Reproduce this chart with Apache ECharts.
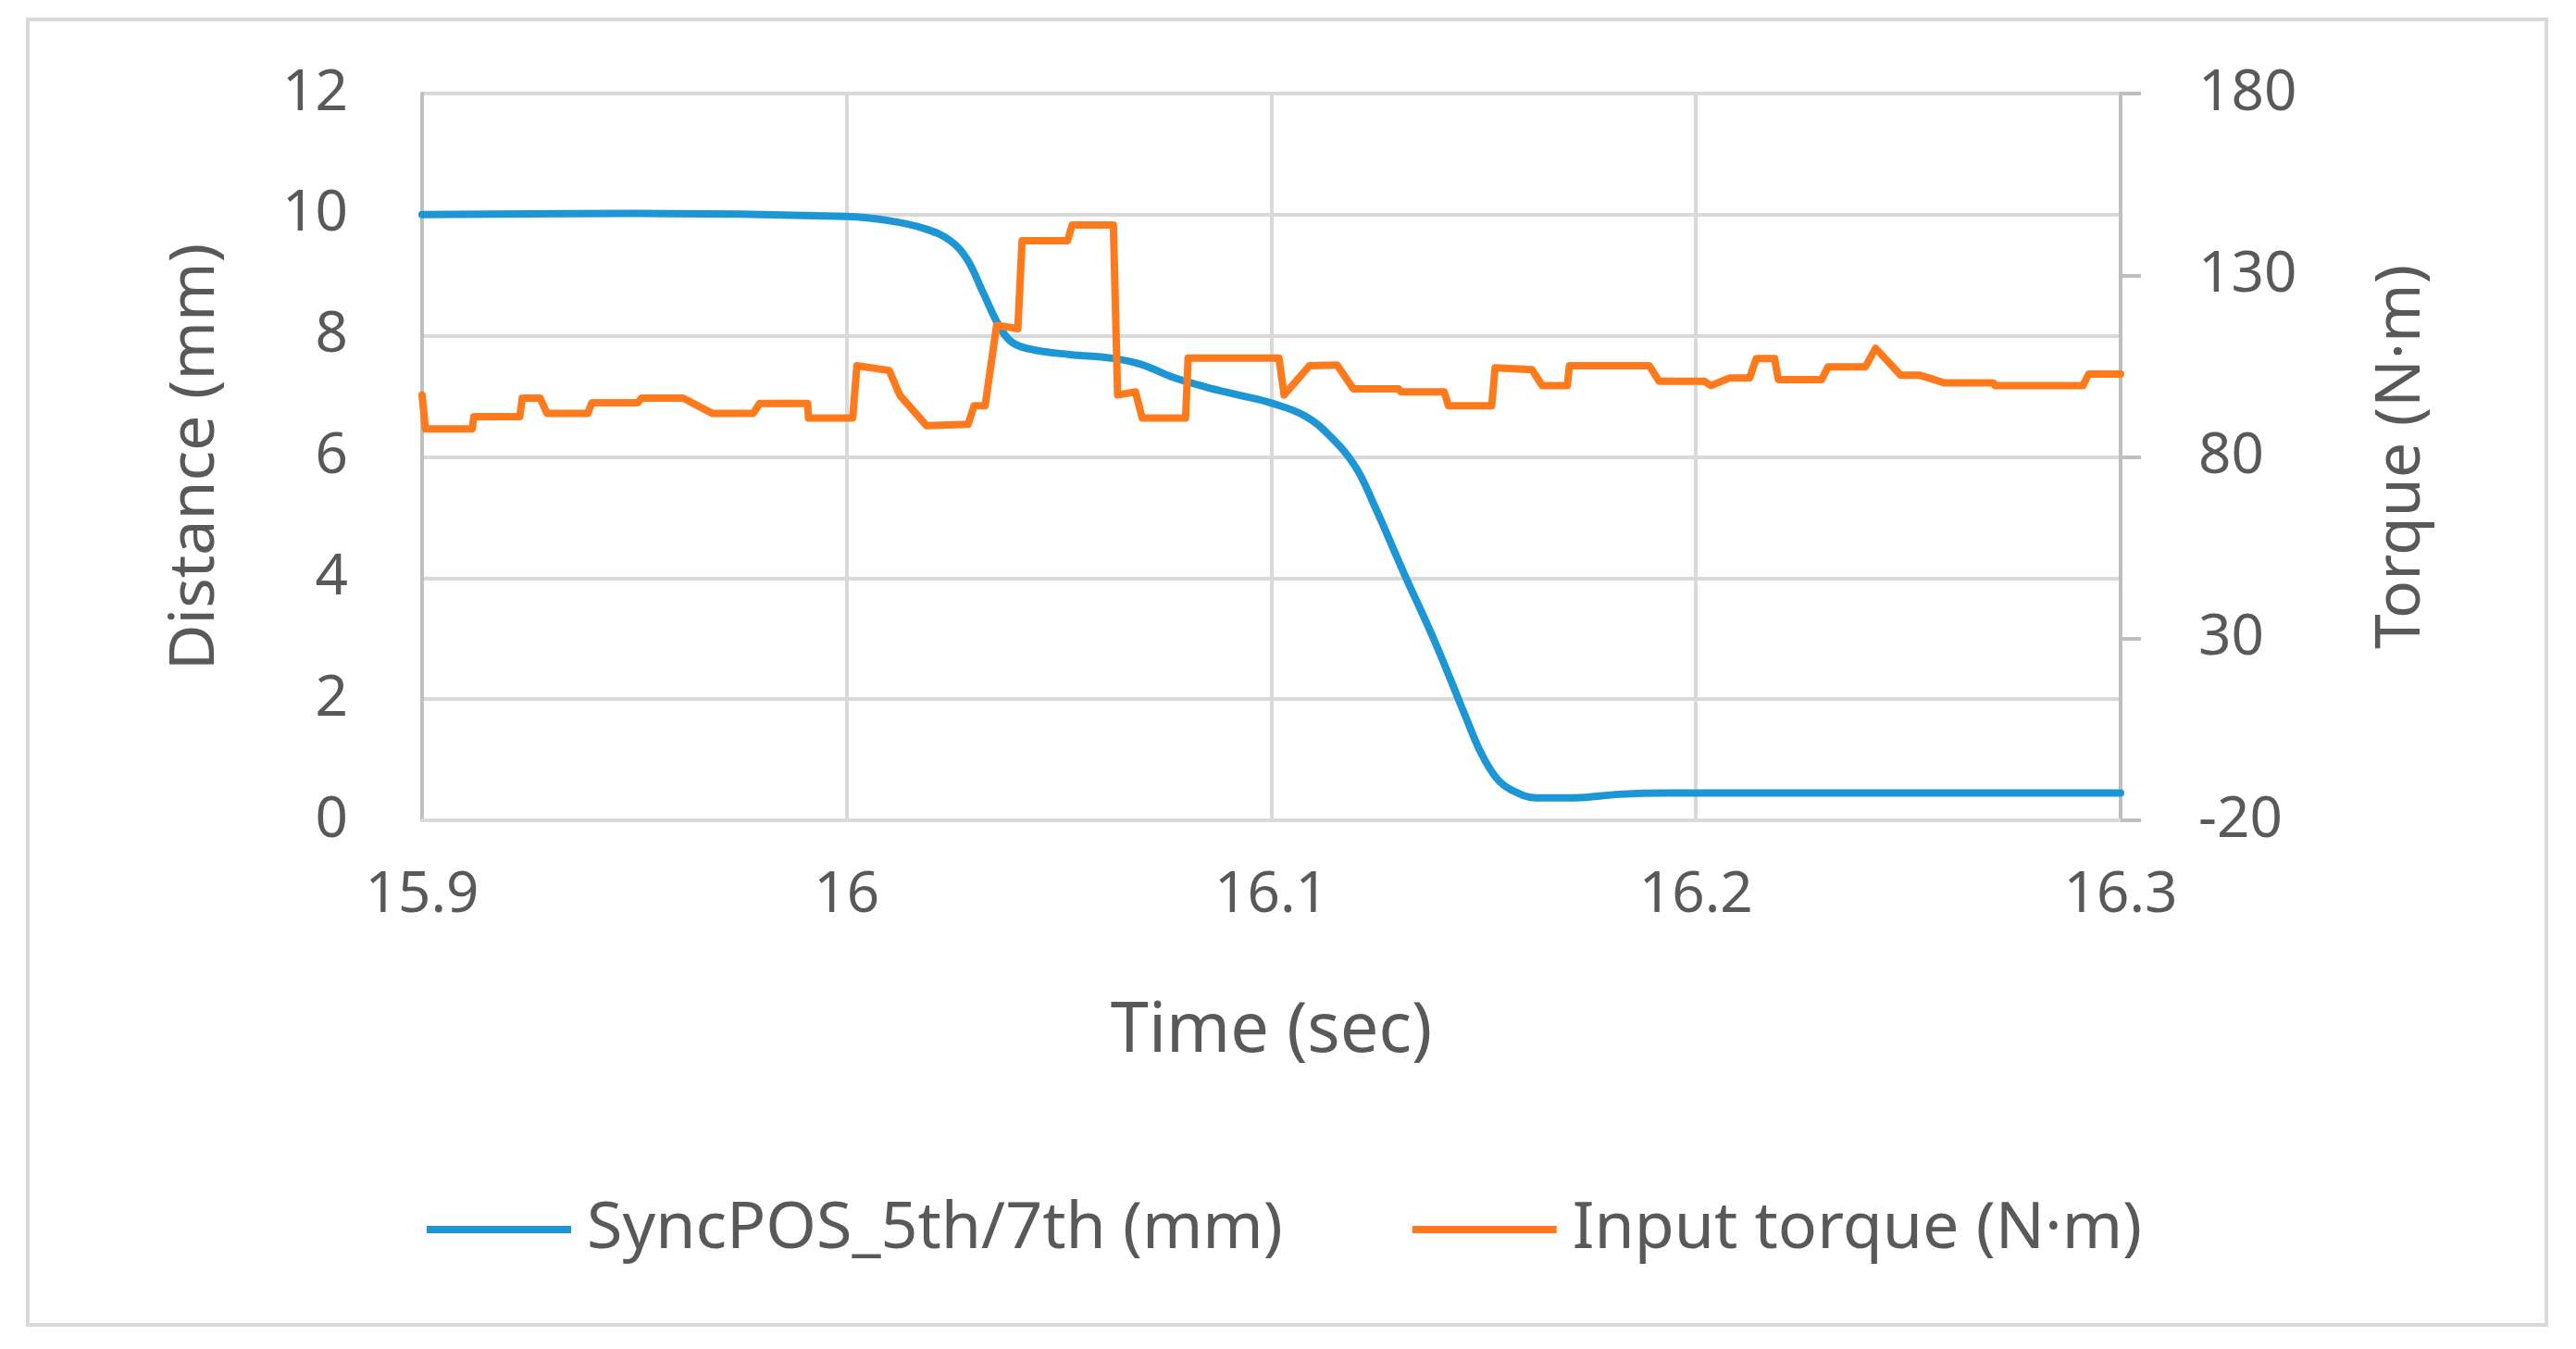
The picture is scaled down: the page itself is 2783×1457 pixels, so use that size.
<!DOCTYPE html>
<html>
<head>
<meta charset="utf-8">
<script src="https://cdn.jsdelivr.net/npm/echarts@6/dist/echarts.min.js"></script>
<style>
  html, body { margin: 0; padding: 0; background: #fff; }
  #chart { width: 2783px; height: 1457px; }
</style>
</head>
<body>
<div id="chart"></div>
<script>
// SyncPOS_5th/7th distance (mm) vs time
var posTime = [15.9, 15.95, 16.0, 16.01, 16.0183, 16.0244, 16.0283, 16.0322, 16.036, 16.039,
  16.0439, 16.0526, 16.0624, 16.0692, 16.077, 16.0848, 16.0925, 16.1004, 16.1081, 16.114,
  16.1197, 16.124, 16.1313, 16.1385, 16.1457, 16.1494, 16.153, 16.1566, 16.1625, 16.1712,
  16.182, 16.193, 16.3];
var posMm = [10.0, 10.02, 9.97, 9.9, 9.77, 9.57, 9.27, 8.7, 8.15, 7.89,
  7.77, 7.69, 7.63, 7.53, 7.31, 7.15, 7.02, 6.88, 6.67, 6.33,
  5.85, 5.24, 4.07, 2.95, 1.72, 1.11, 0.70, 0.50, 0.37, 0.37,
  0.43, 0.45, 0.45];

// input torque (N·m) vs time
var torqueTime = [15.9, 15.9008, 15.9118, 15.9122, 15.923, 15.9236, 15.9278, 15.9294, 15.939, 15.940,
  15.9508, 15.9517, 15.9615, 15.9683, 15.978, 15.9795, 15.9908, 15.991, 16.0014, 16.0024,
  16.010, 16.0125, 16.0188, 16.0286, 16.0300, 16.0326, 16.0353, 16.0403, 16.0413, 16.052,
  16.0531, 16.0628, 16.0638, 16.068, 16.0696, 16.0798, 16.0804, 16.1018, 16.103, 16.109,
  16.1155, 16.1193, 16.13, 16.1305, 16.1407, 16.1417, 16.1519, 16.1527, 16.1614, 16.1638,
  16.1697, 16.1702, 16.189, 16.1913, 16.202, 16.2035, 16.2078, 16.2126, 16.2142, 16.2185,
  16.2194, 16.2296, 16.2311, 16.2399, 16.2423, 16.2482, 16.2526, 16.2584, 16.27, 16.2705,
  16.2911, 16.2925, 16.3];
var torqueNm = [97.0, 87.7, 87.7, 91.1, 91.1, 96.2, 96.2, 92.0, 92.0, 94.9,
  94.9, 96.2, 96.2, 92.0, 92.0, 94.7, 94.7, 90.7, 90.7, 105.1,
  103.8, 97.0, 88.6, 89.0, 94.1, 94.1, 116.2, 115.3, 139.5, 139.5,
  143.8, 143.8, 97.05, 97.9, 90.7, 90.7, 107.2, 107.2, 97.05, 105.1,
  105.3, 98.75, 98.75, 97.9, 97.9, 94.1, 94.1, 104.5, 104.0, 99.6,
  99.6, 105.1, 105.1, 100.85, 100.85, 99.6, 101.7, 101.7, 107.05, 107.05,
  101.3, 101.3, 104.8, 104.8, 109.9, 102.5, 102.5, 100.4, 100.4, 99.6,
  99.6, 102.8, 102.8];

var seriesNames = ['SyncPOS_5th/7th (mm)', 'Input torque (N·m)'];

var font = '"Noto Sans", "Open Sans", sans-serif';
var textColor = '#595959';
var tick_size = 62;
var title_size = 68;

var chart = echarts.init(document.getElementById('chart'));
chart.setOption({
  animation: false,
  textStyle: { fontFamily: font },
  graphic: [{
    type: 'rect',
    shape: { x: 30, y: 21, width: 2721, height: 1410 },
    style: { fill: 'none', stroke: '#d9d9d9', lineWidth: 4 }
  }],
  grid: { left: 456, right: 492, top: 101, bottom: 571 },
  legend: {
    left: 456, top: 1288,
    icon: 'rect', itemWidth: 156, itemHeight: 8, itemGap: 140,
    textStyle: { fontSize: 70, color: textColor, fontFamily: font, padding: [0, 0, 0, 12] },
    data: seriesNames
  },
  xAxis: {
    type: 'value', min: 15.9, max: 16.3, interval: 0.1,
    name: 'Time (sec)', nameLocation: 'middle', nameGap: 192,
    nameTextStyle: { fontSize: 74, color: textColor, fontFamily: font },
    axisLine: { lineStyle: { color: '#d9d9d9', width: 4 } },
    axisTick: { show: false },
    axisLabel: { fontSize: tick_size, color: textColor, margin: 50, fontFamily: font },
    splitLine: { show: true, lineStyle: { color: '#d9d9d9', width: 4 } }
  },
  yAxis: [{
    type: 'value', min: 0, max: 12, interval: 2,
    name: 'Distance (mm)', nameLocation: 'middle', nameGap: 210, nameRotate: 90,
    nameTextStyle: { fontSize: title_size, color: textColor, fontFamily: font },
    axisLine: { show: true, lineStyle: { color: '#bfbfbf', width: 4 } },
    axisTick: { show: false },
    axisLabel: { fontSize: tick_size, color: textColor, margin: 80, fontFamily: font },
    splitLine: { show: true, lineStyle: { color: '#d9d9d9', width: 4 } }
  }, {
    type: 'value', min: -20, max: 180, interval: 50, position: 'right',
    name: 'Torque (N·m)', nameLocation: 'middle', nameGap: 270, nameRotate: 90,
    nameTextStyle: { fontSize: title_size, color: textColor, fontFamily: font },
    axisLine: { show: true, lineStyle: { color: '#bfbfbf', width: 4 } },
    axisTick: { show: true, inside: false, length: 22, lineStyle: { color: '#bfbfbf', width: 4 } },
    axisLabel: { fontSize: tick_size, color: textColor, margin: 84, fontFamily: font },
    splitLine: { show: false }
  }],
  series: [{
    name: seriesNames[0], type: 'line', yAxisIndex: 0,
    showSymbol: false, smooth: 0.4,
    lineStyle: { color: '#1C96D4', width: 8, cap: 'round', join: 'round' },
    itemStyle: { color: '#1C96D4' },
    data: posTime.map(function (t, i) { return [t, posMm[i]]; })
  }, {
    name: seriesNames[1], type: 'line', yAxisIndex: 1,
    showSymbol: false,
    lineStyle: { color: '#FF7A1C', width: 8, cap: 'round', join: 'round' },
    itemStyle: { color: '#FF7A1C' },
    data: torqueTime.map(function (t, i) { return [t, torqueNm[i]]; })
  }]
});
</script>
</body>
</html>
